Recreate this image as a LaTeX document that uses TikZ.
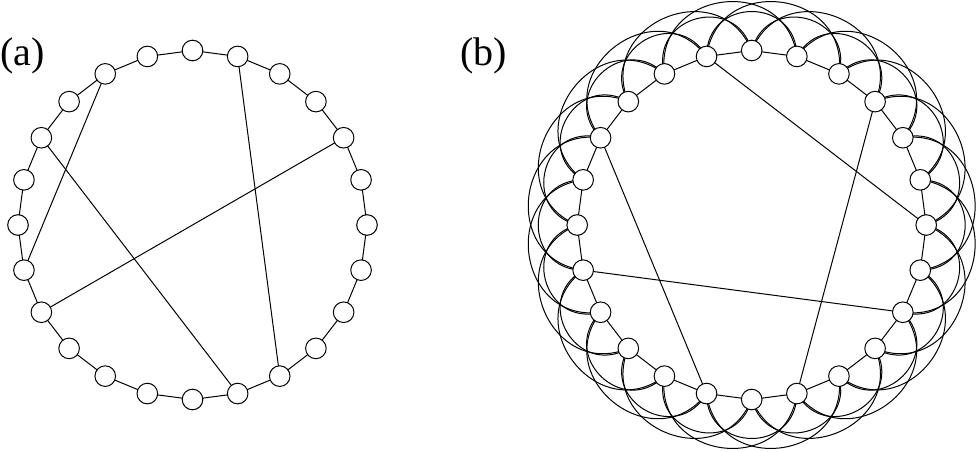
\documentclass[tikz,border=0pt]{standalone}
\usepackage{fontspec}
\setmainfont{Liberation Serif}
\usetikzlibrary{backgrounds}
\begin{document}
\begin{tikzpicture}[x=1pt,y=1pt,
  vert/.style={circle,draw,fill=white,minimum size=20.6pt,inner sep=0pt,line width=1pt},
  edge/.style={line width=1pt},
  lbl/.style={font=\fontsize{40}{42}\selectfont,inner sep=0pt,anchor=base west}]
\useasboundingbox (0,0) rectangle (977,451);
\foreach \k in {0,...,23} {
  \node[vert] (a\k) at ({192.5+174.5*cos(15*\k)},{226+174.5*sin(15*\k)}) {};
  \node[vert] (b\k) at ({751.7+174.5*cos(15*\k)},{226+174.5*sin(15*\k)}) {};
}
\node[lbl] (la) at (0,385.5) {(a)};
\node[lbl] (lb) at (460,385.5) {(b)};
\begin{scope}[on background layer]
  \foreach \k in {0,...,23} {
    \pgfmathtruncatemacro{\n}{mod(\k+1,24)}
    \draw[edge] (a\k.center) -- (a\n.center);
    \draw[edge] (b\k.center) -- (b\n.center);
    % distance-2 arcs (near semicircles)
    \pgfmathtruncatemacro{\j}{mod(\k+2,24)}
    \pgfmathsetmacro{\mo}{15*\k+15}
    \draw[edge] (b\k.center) to[out=\mo,in=\mo,looseness=1.7] (b\j.center);
    % distance-3 arcs
    \pgfmathtruncatemacro{\jj}{mod(\k+3,24)}
    \pgfmathsetmacro{\no}{15*\k+22.5}
    \draw[edge] (b\k.center) to[out=\no,in=\no,looseness=1.62] (b\jj.center);
  }
  % shortcuts (a)
  \draw[edge] (a8.center) -- (a13.center);
  \draw[edge] (a10.center) -- (a19.center);
  \draw[edge] (a2.center) -- (a14.center);
  \draw[edge] (a5.center) -- (a20.center);
  % shortcuts (b)
  \draw[edge] (b7.center) -- (b0.center);
  \draw[edge] (b10.center) -- (b17.center);
  \draw[edge] (b13.center) -- (b22.center);
  \draw[edge] (b3.center) -- (b19.center);
\end{scope}
\end{tikzpicture}
\end{document}
